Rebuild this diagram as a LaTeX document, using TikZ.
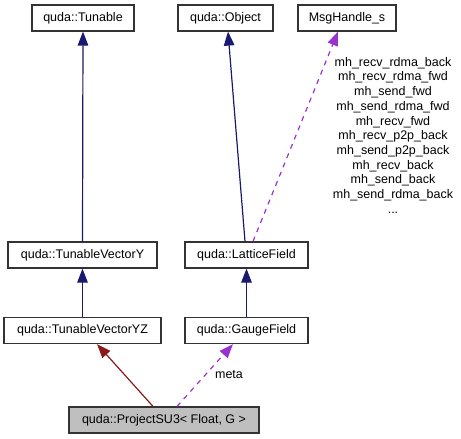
\documentclass[tikz,border=0pt]{standalone}
\usepackage{fontspec}
\setmainfont{Liberation Sans}
\usetikzlibrary{arrows.meta}
\definecolor{navyedge}{HTML}{191970}
\definecolor{rededge}{HTML}{8B1A1A}
\definecolor{purpedge}{HTML}{9A32CD}
\definecolor{boxline}{HTML}{333333}
\definecolor{boxfill}{HTML}{BFBFBF}
\begin{document}
\begin{tikzpicture}[x=1pt,y=-1pt,
  every node/.style={font=\fontsize{12.5}{14.7}\selectfont},
  cls/.style={draw=boxline, line width=1.2pt, fill=white, minimum height=26pt, inner sep=0pt},
  cur/.style={cls, fill=boxfill},
  inh/.style={draw=navyedge, line width=1.2pt, -{Triangle[length=14pt,width=10.5pt]}},
  priv/.style={draw=rededge, line width=1.2pt, -{Triangle[length=14pt,width=10.5pt]}},
  usage/.style={draw=purpedge, line width=1.2pt, dash pattern=on 5pt off 5pt, -{Triangle[length=14pt,width=10.5pt]}},
  lbl/.style={inner sep=0pt, align=center}
]
\useasboundingbox (0,0) rectangle (461,439);
\node[cls, minimum width=102pt] (tunable) at (83,18) {quda::Tunable};
\node[cls, minimum width=95pt]  (object)  at (225.5,18) {quda::Object};
\node[cls, minimum width=98pt]  (msg)     at (347,18) {MsgHandle\_s};
\node[cls, minimum width=149pt] (tvy)     at (82.5,255) {quda::TunableVectorY};
\node[cls, minimum width=123pt] (lattice) at (246.5,255) {quda::LatticeField};
\node[cls, minimum width=157pt] (tvyz)    at (82.5,330.5) {quda::TunableVectorYZ};
\node[cls, minimum width=123pt] (gauge)   at (246.5,330.5) {quda::GaugeField};
\node[cur, minimum width=190pt] (proj)    at (164,420) {quda::ProjectSU3< Float, G >};

\draw[inh] (tvy.north) -- (tunable.south);
\draw[inh] ([xshift=-1.5pt]lattice.north) -- ([xshift=2.5pt]object.south);
\draw[usage] ([xshift=6.5pt]lattice.north) -- ([xshift=-9pt]msg.south);
\draw[inh] (tvyz.north) -- (tvy.south);
\draw[inh] (gauge.north) -- (lattice.south);
\draw[priv] ([xshift=-11pt]proj.north) -- ([xshift=14.5pt]tvyz.south);
\draw[usage] ([xshift=13pt]proj.north) -- ([xshift=-13.5pt]gauge.south);

\node[lbl] (metalbl) at (229,375) {meta};
\node[lbl, anchor=north] (msglbl) at (393,57) {mh\_recv\_rdma\_back\\mh\_recv\_rdma\_fwd\\mh\_send\_fwd\\mh\_send\_rdma\_fwd\\mh\_recv\_fwd\\mh\_recv\_p2p\_back\\mh\_send\_p2p\_back\\mh\_recv\_back\\mh\_send\_back\\mh\_send\_rdma\_back\\...};
\end{tikzpicture}
\end{document}
